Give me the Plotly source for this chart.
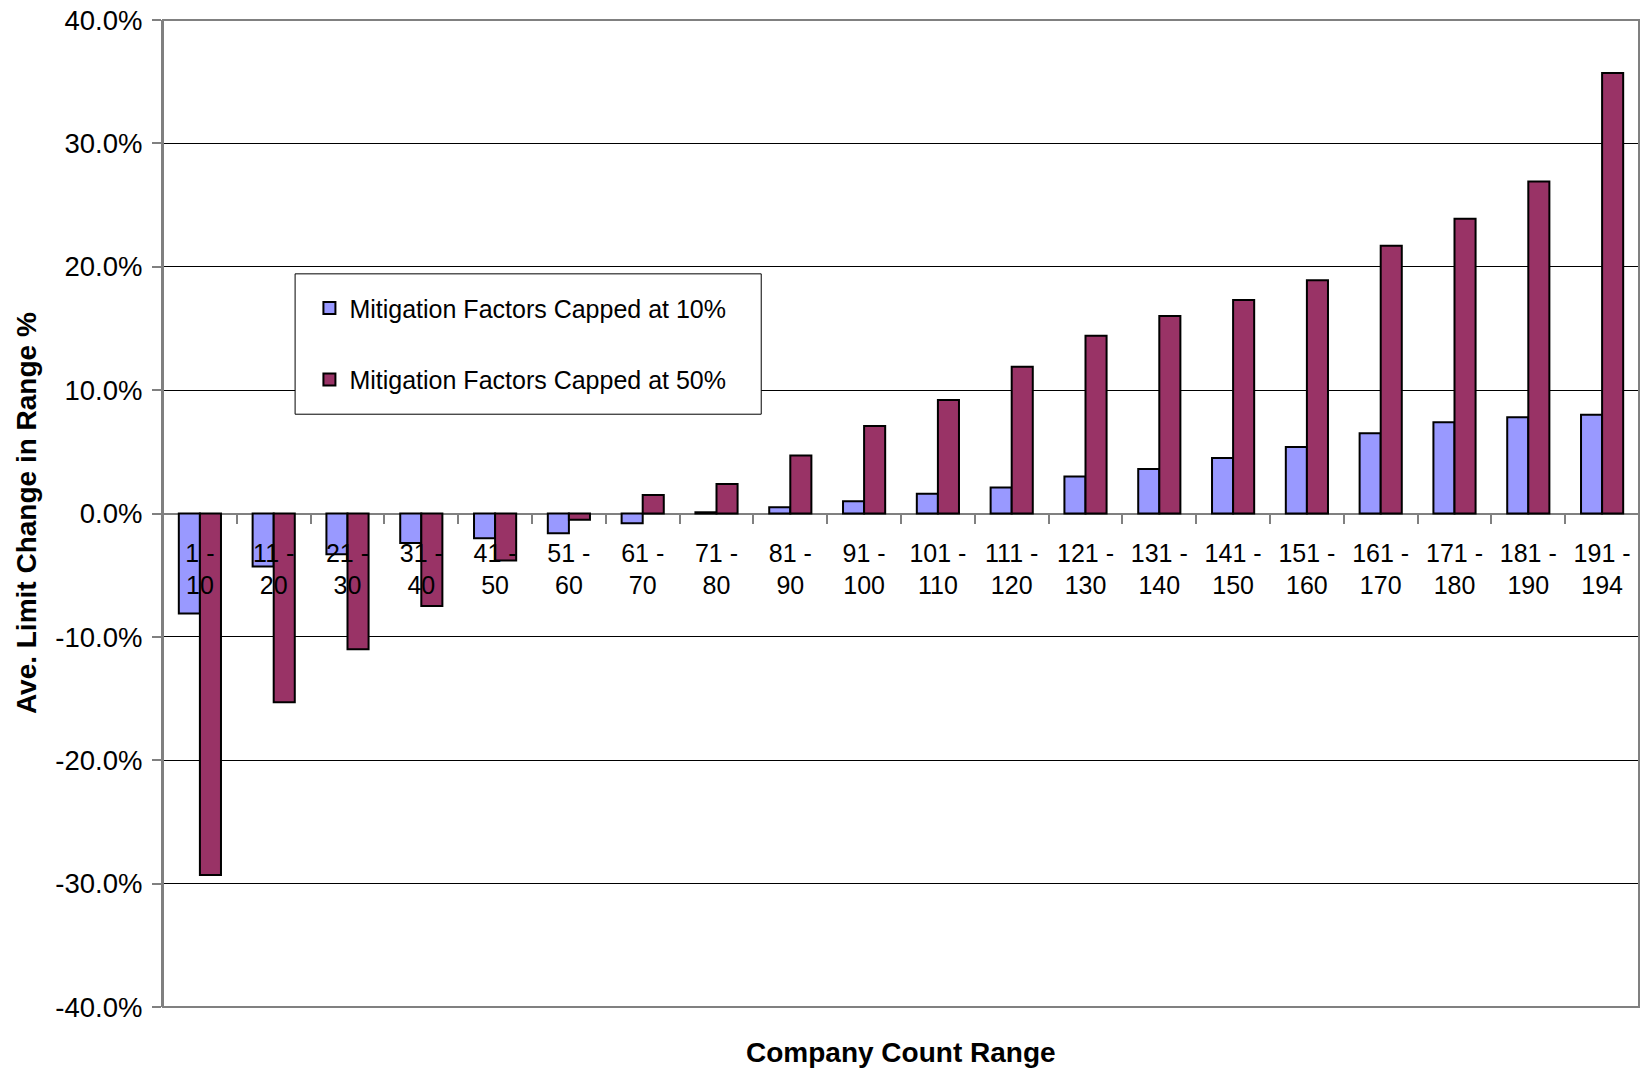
import plotly.graph_objects as go

# Company count ranges (category labels, two lines each)
ranges = ["1 -<br>10", "11 -<br>20", "21 -<br>30", "31 -<br>40", "41 -<br>50",
          "51 -<br>60", "61 -<br>70", "71 -<br>80", "81 -<br>90", "91 -<br>100",
          "101 -<br>110", "111 -<br>120", "121 -<br>130", "131 -<br>140", "141 -<br>150",
          "151 -<br>160", "161 -<br>170", "171 -<br>180", "181 -<br>190", "191 -<br>194"]

# Average limit change in range, percent
capped_10 = [-8.1, -4.3, -3.3, -2.4, -2.0, -1.6, -0.8, 0.1, 0.5, 1.0,
             1.6, 2.1, 3.0, 3.6, 4.5, 5.4, 6.5, 7.4, 7.8, 8.0]
capped_50 = [-29.3, -15.3, -11.0, -7.5, -3.8, -0.5, 1.5, 2.4, 4.7, 7.1,
             9.2, 11.9, 14.4, 16.0, 17.3, 18.9, 21.7, 23.9, 26.9, 35.7]

series_names = ["Mitigation Factors Capped at 10%", "Mitigation Factors Capped at 50%"]
y_ticks = [-40, -30, -20, -10, 0, 10, 20, 30, 40]
y_tick_labels = ["-40.0%", "-30.0%", "-20.0%", "-10.0%", "0.0%",
                 "10.0%", "20.0%", "30.0%", "40.0%"]

FONT = "Liberation Sans, Arial, sans-serif"
FS = 25

fig = go.Figure()
fig.add_trace(go.Bar(x=ranges, y=capped_10, name=series_names[0], legendgroup="a",
                     marker=dict(color="#9999FF", line=dict(color="black", width=2))))
fig.add_trace(go.Bar(x=ranges, y=capped_50, name=series_names[1], legendgroup="b",
                     marker=dict(color="#993366", line=dict(color="black", width=2))))

fig.update_layout(
    width=1644, height=1069,
    margin=dict(l=163, r=5, t=20, b=62, autoexpand=False),
    paper_bgcolor="white", plot_bgcolor="white",
    font=dict(family=FONT, size=FS, color="black"),
    barmode="group", bargap=0.4286, bargroupgap=0,
    showlegend=True,
    legend=dict(x=0.0992, y=0.7313, xanchor="left", yanchor="top",
                bgcolor="rgba(0,0,0,0)", borderwidth=0,
                font=dict(family=FONT, size=FS, color="black"),
                traceorder="grouped", tracegroupgap=36),
    xaxis=dict(
        anchor="free", position=0.5,  # category axis crosses the value axis at 0
        showline=False, showgrid=False, zeroline=False,
        ticks="outside", tickson="boundaries", ticklen=9, tickcolor="#808080",
        tickwidth=1.5, ticklabelstandoff=22,
        tickfont=dict(family=FONT, size=FS, color="black"),
    ),
    yaxis=dict(
        range=[-40, 40], tickvals=y_ticks, ticktext=y_tick_labels,
        showgrid=True, gridcolor="#000000", gridwidth=1,
        zeroline=True, zerolinecolor="#808080", zerolinewidth=2,
        showline=True, linecolor="#808080", linewidth=2,
        ticks="outside", ticklen=9, tickcolor="#808080", tickwidth=1.5,
        ticklabelstandoff=4,
        tickfont=dict(family=FONT, size=27.5, color="black"),
    ),
    shapes=[
        # plot frame
        dict(type="rect", xref="x domain", yref="y domain", x0=0, x1=1, y0=0, y1=1,
             line=dict(color="#808080", width=2), fillcolor="rgba(0,0,0,0)", layer="above"),
        # legend box
        dict(type="rect", xref="paper", yref="paper", x0=0.0895, x1=0.4053, y0=0.6006, y1=0.7428,
             line=dict(color="black", width=1), fillcolor="white", layer="above"),
    ],
    annotations=[
        dict(text="<b>Ave. Limit Change in Range %</b>", xref="paper", yref="paper",
             x=-0.0924, y=0.5, xanchor="center", yanchor="middle", textangle=-90,
             showarrow=False, font=dict(family=FONT, size=28, color="black")),
        dict(text="<b>Company Count Range</b>", xref="paper", yref="paper",
             x=0.5, y=-0.046, xanchor="center", yanchor="middle",
             showarrow=False, font=dict(family=FONT, size=28, color="black")),
    ],
)

fig.write_html("out.html")
